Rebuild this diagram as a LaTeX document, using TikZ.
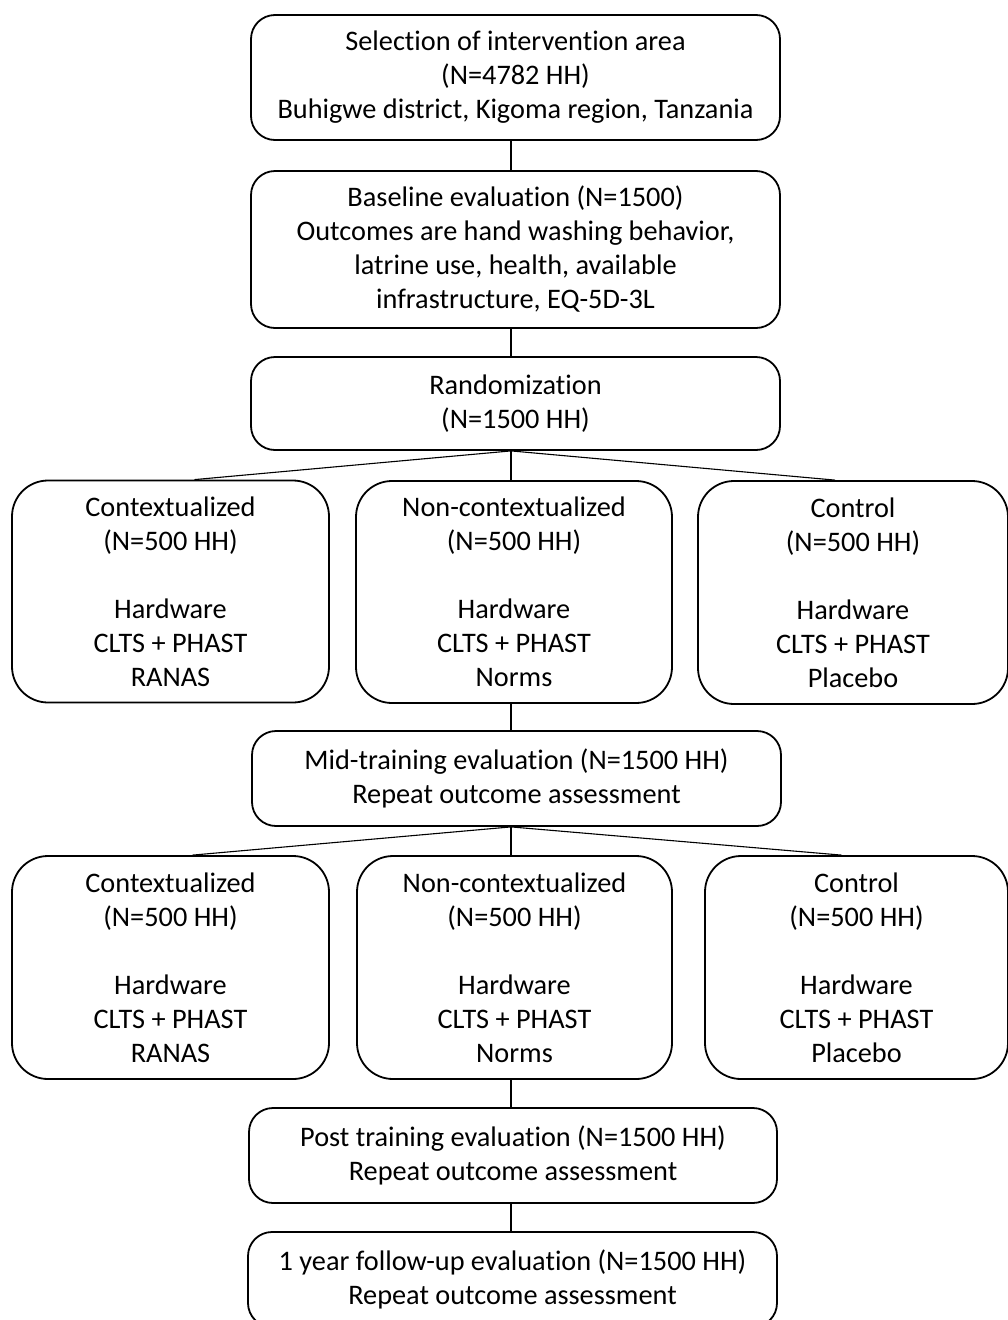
\documentclass[tikz,border=0pt]{standalone}
\usepackage{fontspec}
\setmainfont[Ligatures={NoCommon}]{Carlito}
\begin{document}
\begin{tikzpicture}[x=1pt,y=-1pt,
  box/.style={draw, line width=1.8pt, rounded corners=24pt, align=center,
    inner sep=0pt, font=\fontsize{28.3}{34}\selectfont},
  bigbox/.style={box, rounded corners=36pt},
  conn/.style={line width=1.1pt}]
\useasboundingbox (0,0) rectangle (1008,1320);
\clip (0,0) rectangle (1008,1320);
\fill[white] (0,0) rectangle (1008,1320);

\node[box, minimum width=529, minimum height=125] (n1) at (515.5,77.5)
  {Selection of intervention area\\(N=4782 HH)\\Buhigwe district, Kigoma region, Tanzania};
\node[box, minimum width=529, minimum height=157] (n2) at (515.5,249.5)
  {Baseline evaluation (N=1500)\\Outcomes are hand washing behavior,\\latrine use, health, available\\infrastructure, EQ-5D-3L};
\node[box, minimum width=529, minimum height=93] (n3) at (515.5,403.5)
  {Randomization\\(N=1500 HH)};

\node[bigbox, minimum width=317, minimum height=222] (a1) at (170.5,591.5)
  {Contextualized\\(N=500 HH)\\~\\Hardware\\CLTS + PHAST\\RANAS};
\node[bigbox, minimum width=316, minimum height=222] (a2) at (514,592)
  {Non-contextualized\\(N=500 HH)\\~\\Hardware\\CLTS + PHAST\\Norms};
\node[bigbox, minimum width=310, minimum height=223] (a3) at (853,592.5)
  {Control\\(N=500 HH)\\~\\Hardware\\CLTS + PHAST\\Placebo};

\node[box, minimum width=529, minimum height=95] (n4) at (516.5,778.5)
  {Mid-training evaluation (N=1500 HH)\\Repeat outcome assessment};

\node[bigbox, minimum width=317, minimum height=223] (b1) at (170.5,967.5)
  {Contextualized\\(N=500 HH)\\~\\Hardware\\CLTS + PHAST\\RANAS};
\node[bigbox, minimum width=315, minimum height=223] (b2) at (514.5,967.5)
  {Non-contextualized\\(N=500 HH)\\~\\Hardware\\CLTS + PHAST\\Norms};
\node[bigbox, minimum width=303, minimum height=223] (b3) at (856.5,967.5)
  {Control\\(N=500 HH)\\~\\Hardware\\CLTS + PHAST\\Placebo};

\node[box, minimum width=528, minimum height=95] (n5) at (513,1155.5)
  {Post training evaluation (N=1500 HH)\\Repeat outcome assessment};
\node[box, minimum width=529, minimum height=95] (n6) at (512.5,1279.5)
  {1 year follow-up evaluation (N=1500 HH)\\Repeat outcome assessment};

\draw[conn] ([xshift=-4.5pt]n1.south) -- ([xshift=-4.5pt]n2.north);
\draw[conn] ([xshift=-4.5pt]n2.south) -- ([xshift=-4.5pt]n3.north);
\draw[conn] ([xshift=-4.5pt]n3.south) -- ([xshift=-3pt]a2.north);
\draw[conn] ([xshift=-4.5pt]n3.south) -- ([xshift=24pt]a1.north);
\draw[conn] ([xshift=-4.5pt]n3.south) -- ([xshift=-18pt]a3.north);
\draw[conn] ([xshift=-5.5pt]n4.north) -- ([xshift=-3pt]a2.south);
\draw[conn] ([xshift=-5.5pt]n4.south) -- ([xshift=-3.5pt]b2.north);
\draw[conn] ([xshift=-5.5pt]n4.south) -- ([xshift=22pt]b1.north);
\draw[conn] ([xshift=-5.5pt]n4.south) -- ([xshift=-15pt]b3.north);
\draw[conn] ([xshift=-3.5pt]b2.south) -- ([xshift=-2pt]n5.north);
\draw[conn] ([xshift=-2pt]n5.south) -- ([xshift=-1.5pt]n6.north);
\end{tikzpicture}
\end{document}
